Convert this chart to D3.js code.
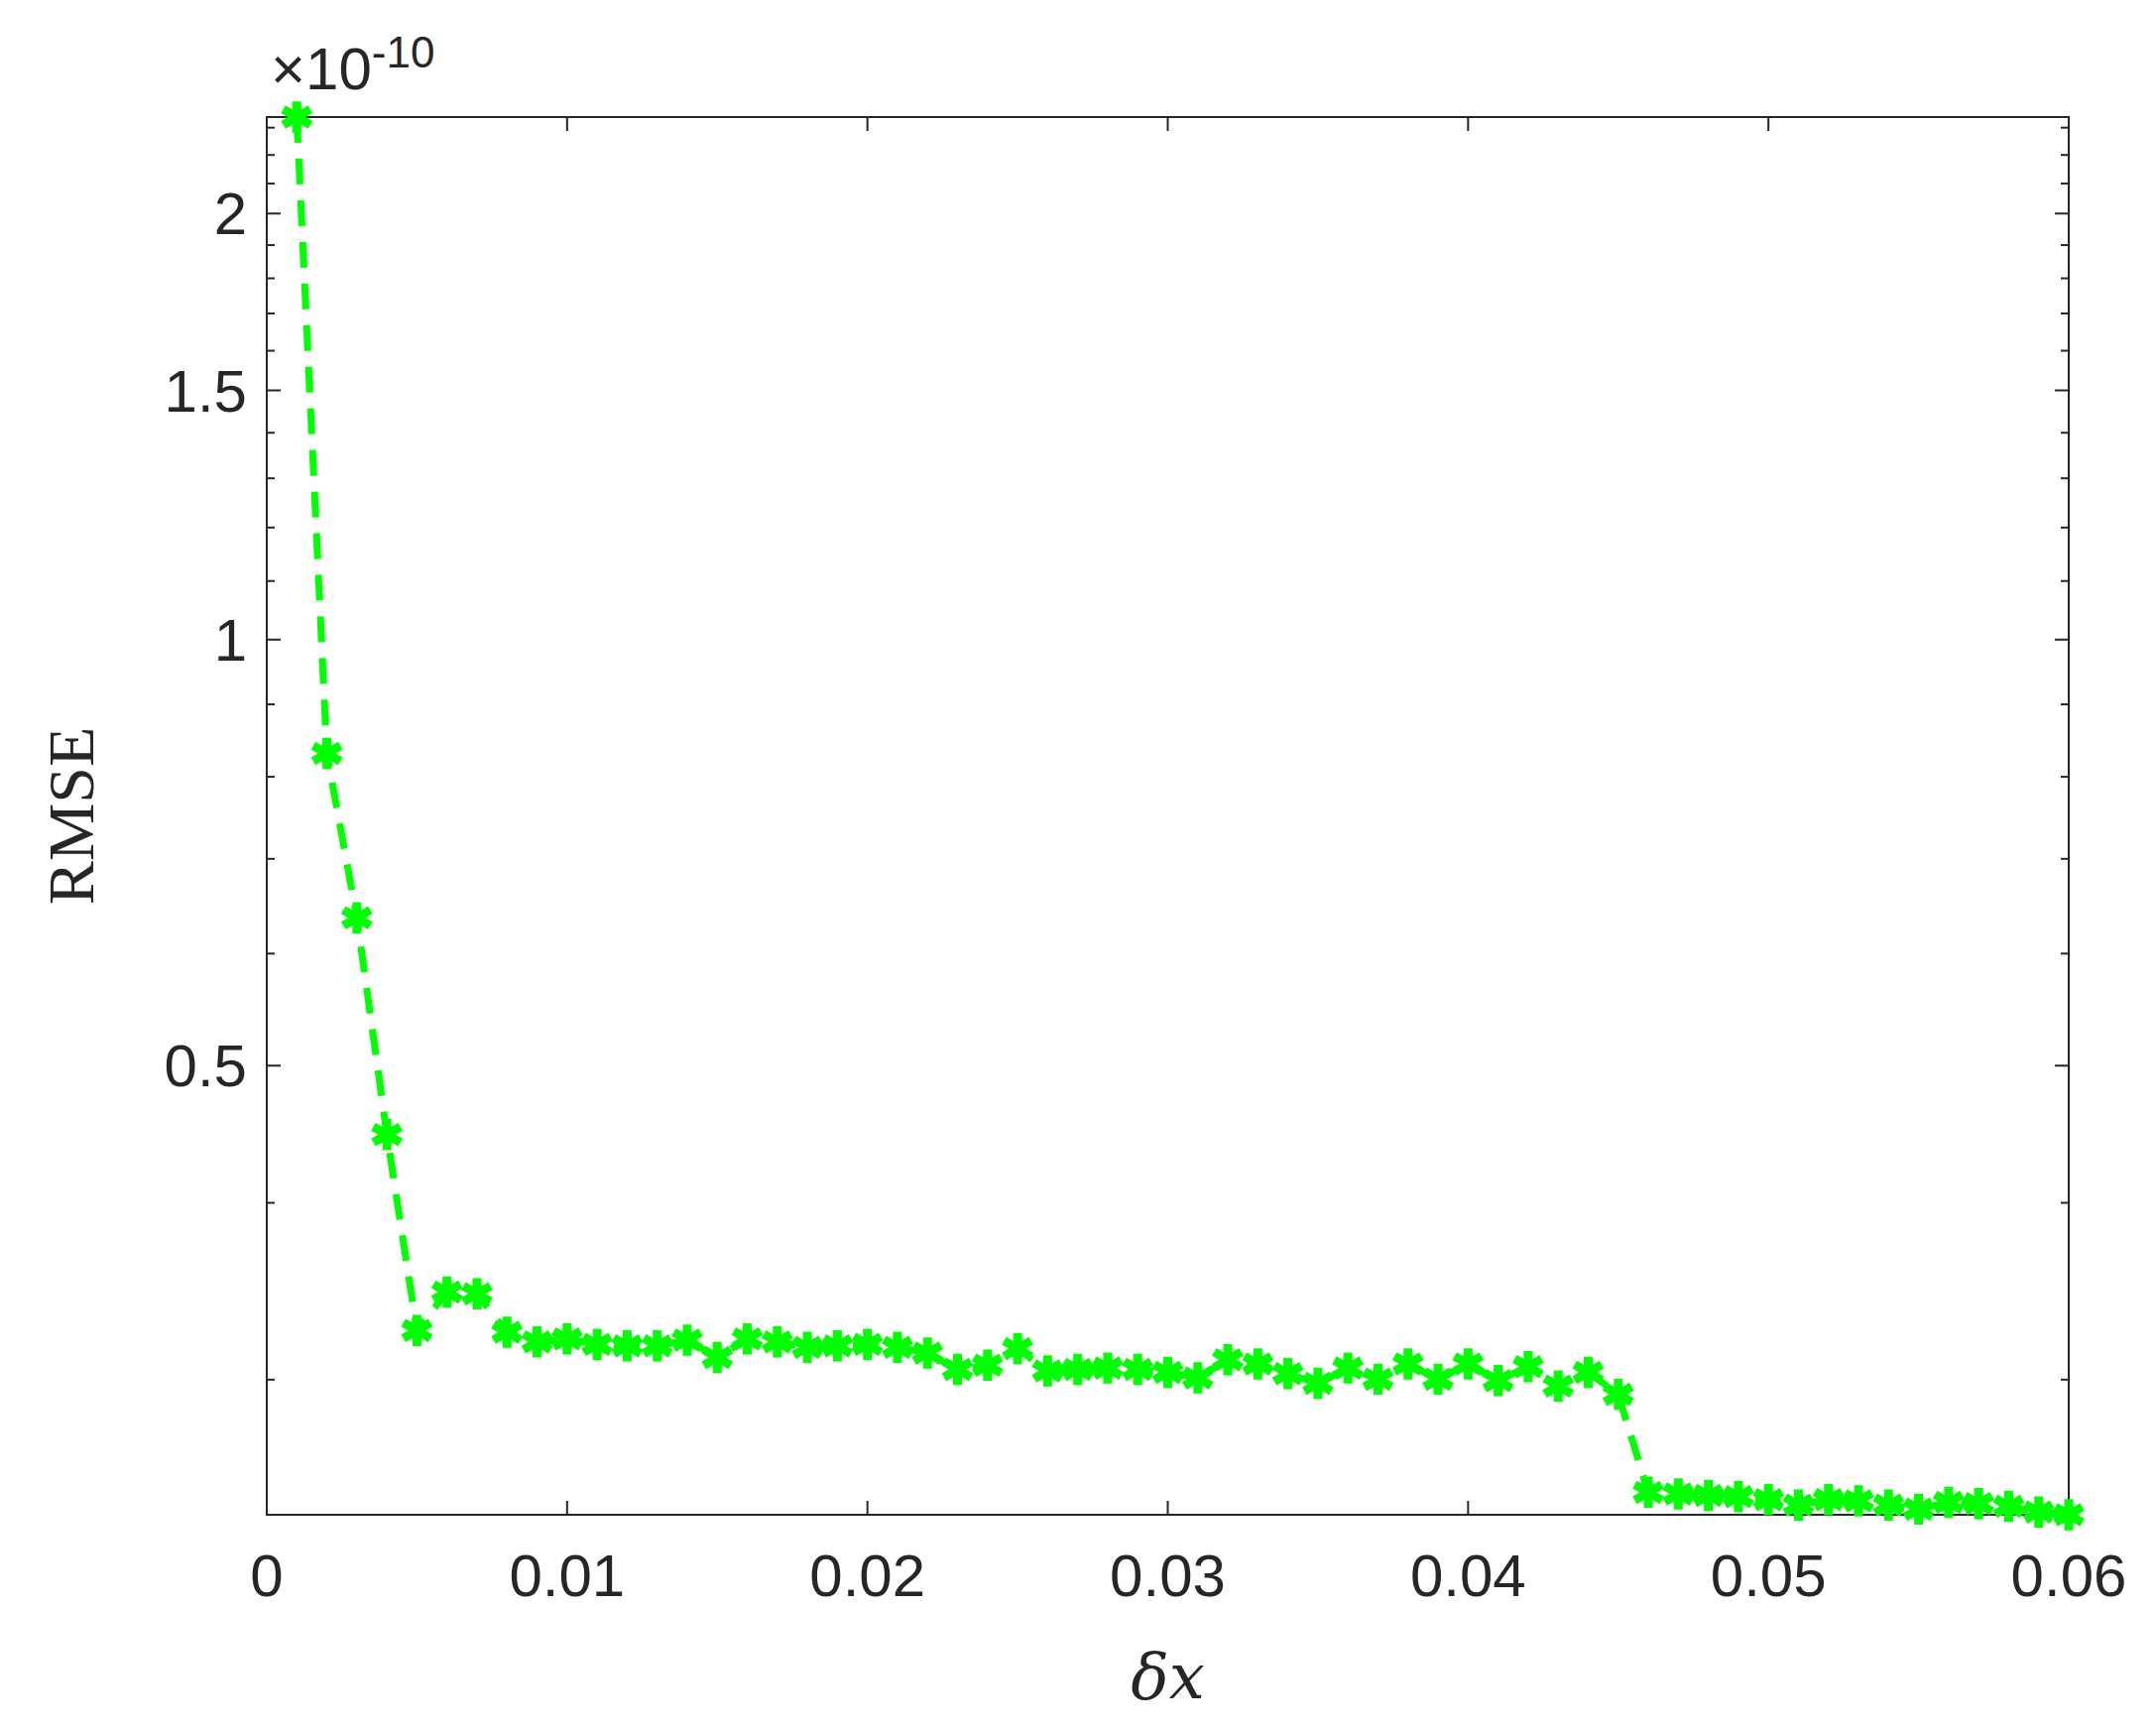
<!DOCTYPE html>
<html><head><meta charset="utf-8">
<script src="https://cdn.jsdelivr.net/npm/d3@7"></script>
<style>body{margin:0;background:#fff}svg{display:block}</style>
</head><body>
<script>
// chart data (RMSE in units of 1e-10)
var dx = d3.range(1, 61).map(function(i){ return i / 1000; });
var rmse = [2.34,0.831,0.636,0.447,0.325,0.346,0.345,0.324,0.319,0.3206,
  0.3177,0.3170,0.3170,0.3199,0.311,0.3206,0.319,0.3162,0.3170,0.3177,
  0.3162,0.3133,0.3050,0.3071,0.3155,0.3043,0.3050,0.3057,0.3050,0.3036,
  0.3009,0.3099,0.3078,0.3029,0.2982,0.3057,0.3002,0.3078,0.3002,0.3078,
  0.2995,0.3064,0.2969,0.3036,0.2929,0.2497,0.2491,0.2485,0.2480,0.2468,
  0.2446,0.2468,0.2463,0.2446,0.2430,0.2457,0.2452,0.2441,0.2419,0.2408];
var xTicks = [0,0.01,0.02,0.03,0.04,0.05,0.06];
var xTickLabels = ["0","0.01","0.02","0.03","0.04","0.05","0.06"];
var yTicks = [0.5,1,1.5,2];
var yMinor = [0.3,0.4,0.6,0.7,0.8,0.9,1.1,1.2,1.3,1.4,1.6,1.7,1.8,1.9,2.1,2.2,2.3];

var W=2174,H=1746, L=269,R=2086,T=118,B=1527;
var svg=d3.select("body").append("svg").attr("width",W).attr("height",H);
var x=d3.scaleLinear().domain([0,0.06]).range([L,R]);
var y=d3.scaleLog().domain([d3.min(rmse),d3.max(rmse)]).range([B,T]);
var font="'Liberation Sans', Helvetica, Arial, sans-serif";

var g=svg.append("g");
// box
g.append("rect").attr("x",L).attr("y",T).attr("width",R-L).attr("height",B-T)
 .attr("fill","none").attr("stroke","#262626").attr("stroke-width",2);

// ticks
xTicks.forEach(function(t,i){
  var px=x(t);
  g.append("line").attr("x1",px).attr("x2",px).attr("y1",B).attr("y2",B-14).attr("stroke","#262626").attr("stroke-width",2);
  g.append("line").attr("x1",px).attr("x2",px).attr("y1",T).attr("y2",T+14).attr("stroke","#262626").attr("stroke-width",2);
  g.append("text").attr("x",px).attr("y",B+82).attr("text-anchor","middle")
   .attr("font-family",font).attr("font-size",60).attr("fill","#262626").text(xTickLabels[i]);
});
yTicks.concat(yMinor).forEach(function(t){
  var py=y(t), len=yTicks.indexOf(t)>=0?14:8;
  g.append("line").attr("x1",L).attr("x2",L+len).attr("y1",py).attr("y2",py).attr("stroke","#262626").attr("stroke-width",2);
  g.append("line").attr("x1",R).attr("x2",R-len).attr("y1",py).attr("y2",py).attr("stroke","#262626").attr("stroke-width",2);
});
yTicks.forEach(function(t){
  g.append("text").attr("x",L-20).attr("y",y(t)+21).attr("text-anchor","end")
   .attr("font-family",font).attr("font-size",60).attr("fill","#262626").text(t);
});
// exponent
g.append("text").attr("x",L+4).attr("y",T-28).attr("font-family",font).attr("font-size",60).attr("fill","#262626")
 .html("×10<tspan dy='-22' font-size='44'>-10</tspan>");

// axis labels
svg.append("text").attr("x",(L+R)/2).attr("y",1712).attr("text-anchor","middle")
 .attr("font-family","'DejaVu Serif', 'Liberation Serif', serif").attr("font-style","italic").attr("font-size",64)
 .attr("fill","#262626").text("δx");
svg.append("text").attr("transform","translate(94,"+((T+B)/2)+") rotate(-90)").attr("text-anchor","middle")
 .attr("font-family","'Liberation Serif', serif").attr("font-size",66).attr("fill","#262626").text("RMSE");

// line
var line=d3.line().x(function(d,i){return x(dx[i]);}).y(function(d){return y(d);});
svg.append("path").datum(rmse).attr("d",line).attr("fill","none").attr("stroke","#00ff00")
 .attr("stroke-width",7).attr("stroke-dasharray","26,16");
// markers
var sym=d3.symbol().type(d3.symbolAsterisk).size(700);
svg.selectAll(".m").data(rmse).enter().append("path").attr("class","m")
 .attr("transform",function(d,i){return "translate("+x(dx[i])+","+y(d)+")";})
 .attr("d",sym).attr("fill","none").attr("stroke","#00ff00").attr("stroke-width",9);
</script>
</body></html>
